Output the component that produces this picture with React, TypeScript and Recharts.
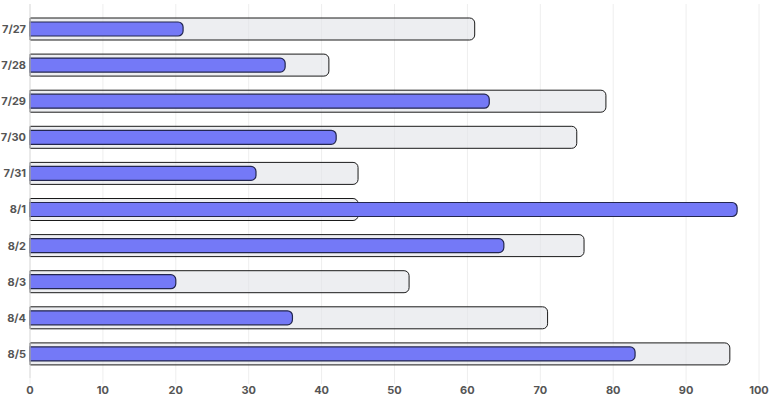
import React from "react";
import { BarChart, Bar, XAxis, YAxis, CartesianGrid } from "recharts";

const categories = ["7/27", "7/28", "7/29", "7/30", "7/31", "8/1", "8/2", "8/3", "8/4", "8/5"];
const backValues = [61, 41, 79, 75, 45, 45, 76, 52, 71, 96];
const frontValues = [21, 35, 63, 42, 31, 97, 65, 20, 36, 83];
const xTicks = [0, 10, 20, 30, 40, 50, 60, 70, 80, 90, 100];

const data = categories.map((c, i) => ({ name: c, back: backValues[i], front: frontValues[i] }));

const tickStyle = { fontSize: 11, fontWeight: 700, fill: "#555", fontFamily: "Inter, 'Liberation Sans', sans-serif" };

export default function App() {
  return (
    <div style={{ position: "absolute", left: 0, top: 0, width: 784, height: 400 }}>
      <BarChart
        width={784}
        height={400}
        data={data}
        layout="vertical"
        margin={{ top: 4, right: 25, bottom: 0, left: 0 }}
      >
        <CartesianGrid horizontal={false} vertical={true} stroke="#eeeeee" />
        <XAxis
          type="number"
          domain={[0, 100]}
          ticks={xTicks}
          axisLine={false}
          tickLine={{ stroke: "#eeeeee" }}
          tickSize={6}
          tick={tickStyle}
          height={22}
          interval={0}
        />
        <YAxis
          yAxisId="a"
          type="category"
          dataKey="name"
          width={30}
          axisLine={{ stroke: "#dddddd" }}
          tickLine={false}
          tickSize={2}
          tickMargin={2}
          tick={tickStyle}
          padding={{ top: 7, bottom: 6 }}
          interval={0}
        />
        <YAxis
          yAxisId="b"
          type="category"
          dataKey="name"
          hide
          padding={{ top: 7, bottom: 6 }}
        />
        <Bar
          yAxisId="a"
          dataKey="back"
          barSize={22}
          fill="rgba(225,227,231,0.6)"
          stroke="#1a1a1a"
          strokeWidth={1}
          radius={[0, 5, 5, 0]}
          isAnimationActive={false}
        />
        <Bar
          yAxisId="b"
          dataKey="front"
          barSize={14}
          fill="#7479f7"
          stroke="#23264f"
          strokeWidth={1.2}
          radius={[0, 5, 5, 0]}
          isAnimationActive={false}
        />
      </BarChart>
    </div>
  );
}
